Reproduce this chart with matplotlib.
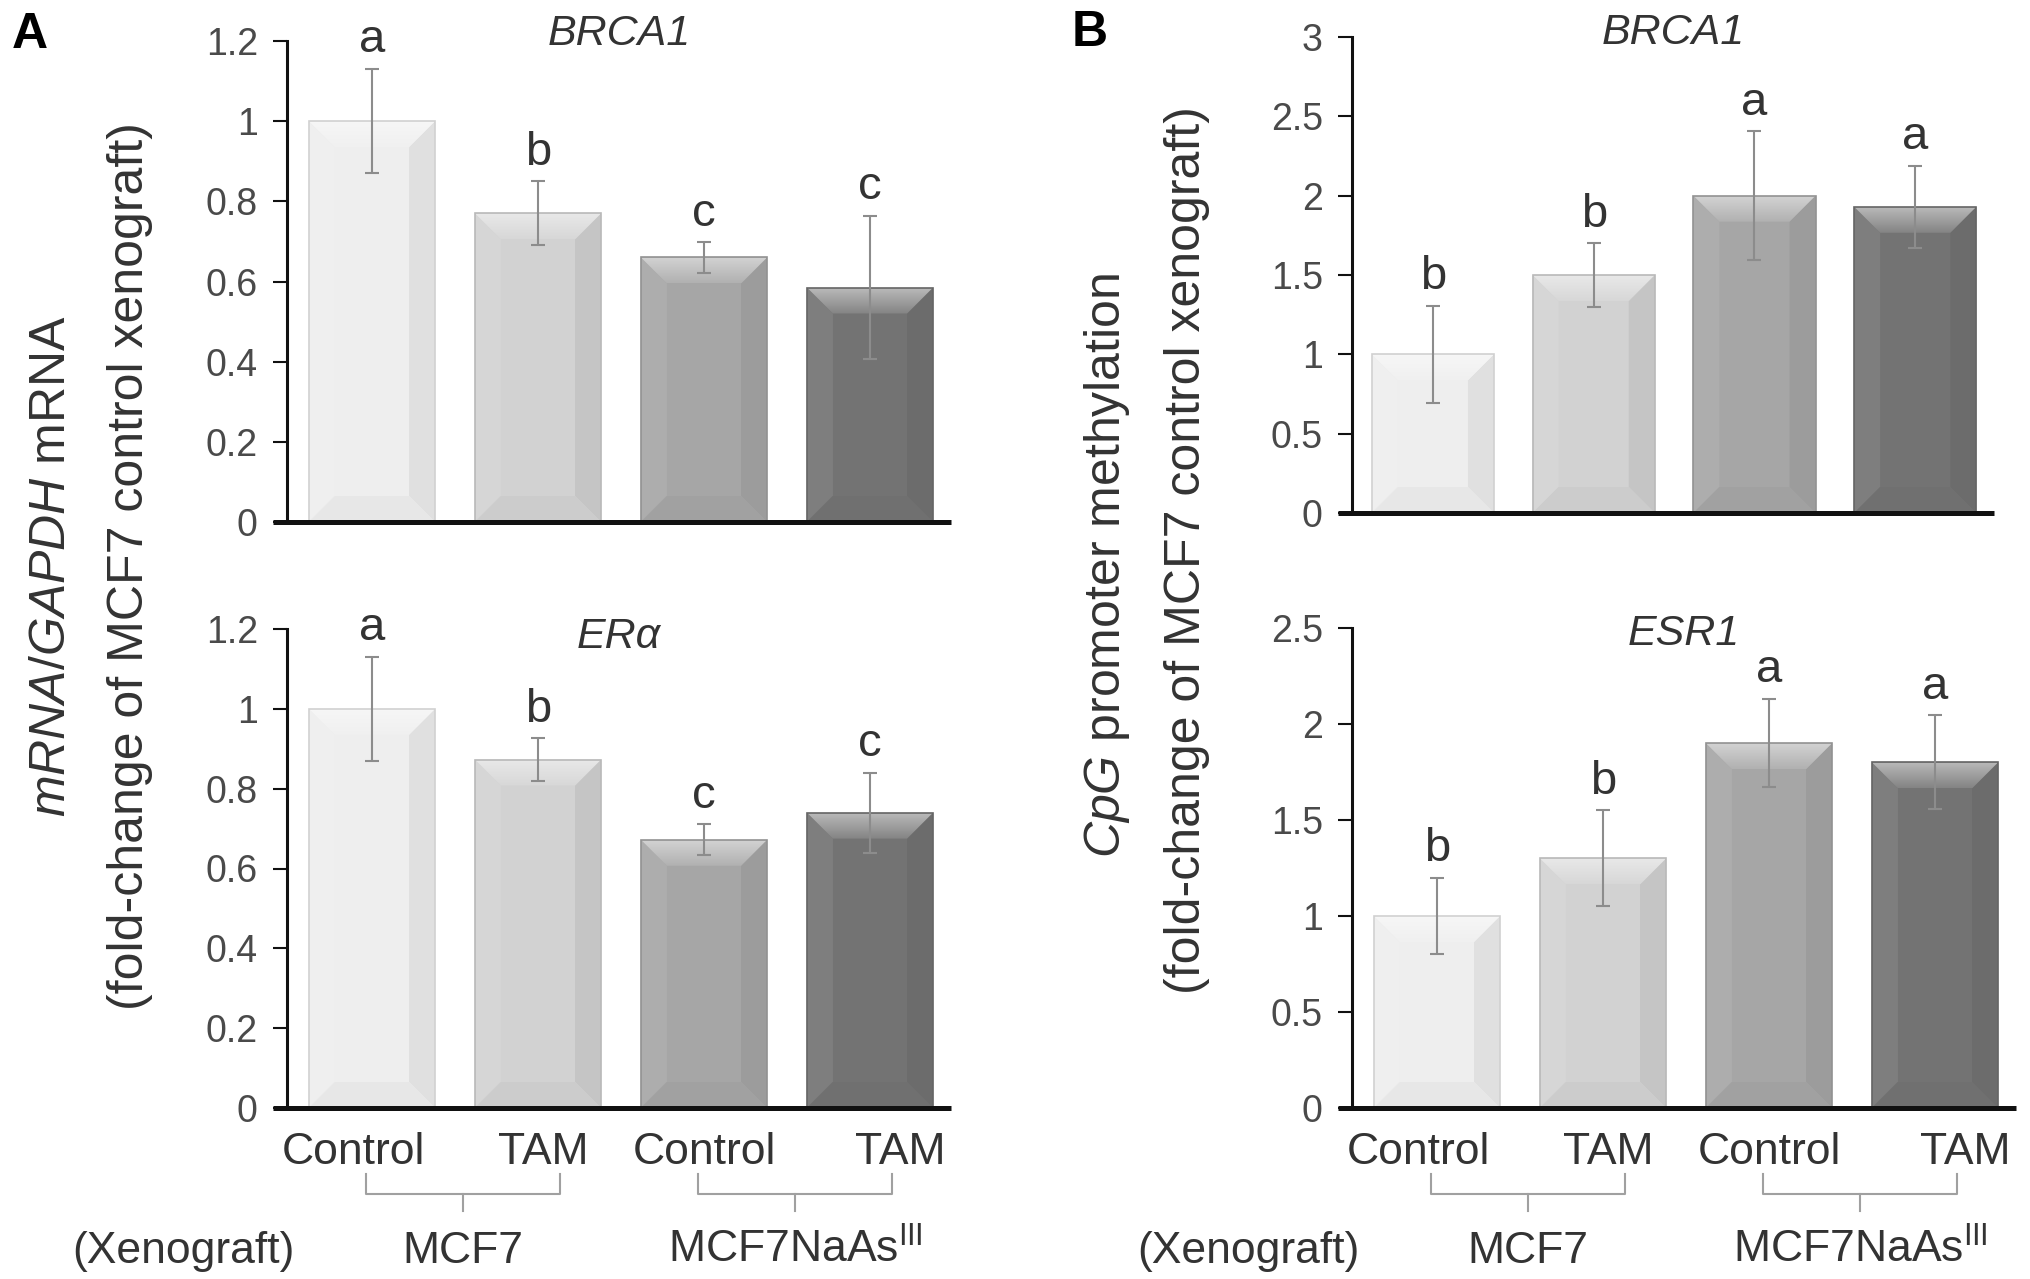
import numpy as np
import matplotlib
matplotlib.use('Agg')
import matplotlib.pyplot as plt
from matplotlib.colors import to_rgb
from matplotlib.patches import Polygon

plt.rcParams['font.family'] = ['Liberation Sans', 'DejaVu Sans']
plt.rcParams['mathtext.fontset'] = 'custom'
plt.rcParams['mathtext.rm'] = 'Liberation Sans'
plt.rcParams['mathtext.it'] = 'Liberation Sans:italic'

#groups on the x axis
groups = ['Control', 'TAM', 'Control', 'TAM']
xenografts = ['MCF7', r'MCF7NaAs$^{\rm III}$']

#A: mRNA / GAPDH mRNA
brca1_mrna = [1.0, 0.77, 0.66, 0.585]
brca1_mrna_err = [0.13, 0.08, 0.038, 0.178]
brca1_mrna_sig = ['a', 'b', 'c', 'c']
era_mrna = [1.0, 0.873, 0.672, 0.74]
era_mrna_err = [0.13, 0.053, 0.039, 0.10]
era_mrna_sig = ['a', 'b', 'c', 'c']

#B: CpG promoter methylation
brca1_meth = [1.0, 1.5, 2.0, 1.93]
brca1_meth_err = [0.305, 0.2, 0.405, 0.26]
brca1_meth_sig = ['b', 'b', 'a', 'a']
esr1_meth = [1.0, 1.30, 1.90, 1.80]
esr1_meth_err = [0.2, 0.25, 0.23, 0.245]
esr1_meth_sig = ['b', 'b', 'a', 'a']

ticks_mrna = [0, 0.2, 0.4, 0.6, 0.8, 1.0, 1.2]
ticks_brca1_meth = [0, 0.5, 1.0, 1.5, 2.0, 2.5, 3.0]
ticks_esr1_meth = [0, 0.5, 1.0, 1.5, 2.0, 2.5]

bar_colors = ['#eeeeee', '#d2d2d2', '#a6a6a6', '#737373']
label_shift = [-0.11, 0.03, 0.0, 0.18]   # x tick labels are not centred on bars
TXT = '#333333'
PT = 100 / 72.0  # px per point

W, H = 2031, 1279
fig = plt.figure(figsize=(W / 100, H / 100), dpi=100)


def mix(c, target, t):
    a = np.array(to_rgb(c))
    b = np.array(to_rgb(target))
    return tuple(a * (1 - t) + b * t)


def add_ax(l, t, r, b):
    return fig.add_axes([l / W, 1 - b / H, (r - l) / W, (b - t) / H])


def bevel_bars(ax, x, vals, width, bev=26):
    sx = ax.bbox.width / np.diff(ax.get_xlim())[0]
    sy = ax.bbox.height / np.diff(ax.get_ylim())[0]
    dx, dy = bev / sx, bev / sy
    edges = [mix(c, 'black', 0.12) for c in bar_colors]
    ax.bar(x, vals, width, color=bar_colors, linewidth=0, zorder=2)
    for xi, h, c in zip(x, vals, bar_colors):
        x0, x1 = xi - width / 2, xi + width / 2
        faces = [
            ([(x0, 0), (x0 + dx, dy), (x0 + dx, h - dy), (x0, h)], mix(c, 'white', 0.08)),
            ([(x1, 0), (x1 - dx, dy), (x1 - dx, h - dy), (x1, h)], mix(c, 'black', 0.06)),
            ([(x0, 0), (x1, 0), (x1 - dx, dy), (x0 + dx, dy)], mix(c, 'black', 0.03)),
        ]
        for pts, fc in faces:
            ax.add_patch(Polygon(pts, closed=True, fc=fc, ec='none', zorder=2.1))
        top = Polygon([(x0, h), (x1, h), (x1 - dx, h - dy), (x0 + dx, h - dy)],
                      closed=True, transform=ax.transData, fc='none', ec='none')
        g = np.linspace(0, 1, 64)[:, None, None]
        img = np.array(mix(c, 'white', 0.5)) * (1 - g) + np.array(mix(c, 'white', 0.12)) * g
        im = ax.imshow(img, extent=[x0, x1, h - dy, h], origin='upper', aspect='auto',
                       interpolation='bilinear', zorder=2.1)
        im.set_clip_path(top)
    ax.bar(x, vals, width, fill=False, edgecolor=edges, linewidth=1.2, zorder=2.2)


def panel(box, xlim, vals, errs, sig, yticks, title, title_off, bottom=False):
    ax = add_ax(*box)
    x = np.arange(len(vals))
    ylim = (0, yticks[-1])
    ax.set_xlim(xlim)
    ax.set_ylim(ylim)
    width = 0.76
    bevel_bars(ax, x, vals, width)
    ax.errorbar(x, vals, yerr=errs, fmt='none', ecolor='#8c8c8c', elinewidth=1.5,
                capsize=5, capthick=1.5, zorder=3)
    for xi, v, e, s in zip(x, vals, errs, sig):
        ax.annotate(s, (xi, v + e), xytext=(0, 12), textcoords='offset points',
                    ha='center', va='baseline', fontsize=34, color=TXT, annotation_clip=False)
    ax.set_xlim(xlim)
    ax.set_ylim(ylim)

    ax.set_yticks(yticks, ['%g' % t for t in yticks])
    ax.tick_params(axis='y', direction='out', length=10, width=1.5, pad=11,
                   labelsize=27, color='#111111', labelcolor='#4a4a4a')
    for s in ['top', 'right', 'bottom']:
        ax.spines[s].set_visible(False)
    ax.spines['left'].set_linewidth(2.2)
    ax.spines['left'].set_color('#111111')
    ax.plot([-14 / ax.bbox.width, 1], [0, 0], transform=ax.get_yaxis_transform(),
            color='#111111', lw=3.6, clip_on=False, solid_capstyle='butt', zorder=5)

    ax.annotate(title, (0.5, 1), xycoords='axes fraction', xytext=(0, -title_off),
                textcoords='offset points', ha='center', va='baseline',
                fontsize=31, style='italic', color=TXT)

    if bottom:
        ax.set_xticks(x + np.array(label_shift), groups)
        ax.tick_params(axis='x', length=0, pad=17, labelsize=32, labelcolor=TXT)
        hp = ax.bbox.height
        tr = ax.get_xaxis_transform()
        for g, name in enumerate(xenografts):
            i = 2 * g
            xl, xr, xm = i - 0.035, i + 1.13, i + 0.55
            ax.plot([xl, xl, xr, xr], [-66 / hp, -86 / hp, -86 / hp, -66 / hp], transform=tr,
                    color='#a0a0a0', lw=1.5, clip_on=False)
            ax.plot([xm, xm], [-86 / hp, -103 / hp], transform=tr,
                    color='#a0a0a0', lw=1.5, clip_on=False)
            ax.annotate(name, (xm, 0), xycoords=('data', 'axes fraction'),
                        xytext=(0, -155 / PT), textcoords='offset points',
                        ha='center', va='baseline', fontsize=32, color=TXT)
        ax.annotate('(Xenograft)', (0, 0), xycoords='axes fraction',
                    xytext=(-104 / PT, -155 / PT), textcoords='offset points',
                    ha='center', va='baseline', fontsize=32, color=TXT)
    else:
        ax.set_xticks([])
    return ax


xlim_a = (-0.512, 3.488)
xlim_b = (-0.503, 3.49)

panel((287, 41, 951, 522), xlim_a, brca1_mrna, brca1_mrna_err, brca1_mrna_sig,
      ticks_mrna, 'BRCA1', 3)
panel((287, 629, 951, 1108), xlim_a, era_mrna, era_mrna_err, era_mrna_sig,
      ticks_mrna, 'ER\u03b1', 14, bottom=True)
panel((1352, 37, 1994, 513), xlim_b, brca1_meth, brca1_meth_err, brca1_meth_sig,
      ticks_brca1_meth, 'BRCA1', 5)
panel((1352, 628, 2016, 1108), xlim_a, esr1_meth, esr1_meth_err, esr1_meth_sig,
      ticks_esr1_meth, 'ESR1', 12, bottom=True)

#y axis labels
fig.text(52 / W, 1 - 566 / H, r'$\it{mRNA/GAPDH}$ mRNA', rotation=90,
         ha='center', va='center', fontsize=36, color=TXT)
fig.text(130 / W, 1 - 566 / H, '(fold-change of MCF7 control xenograft)', rotation=90,
         ha='center', va='center', fontsize=36, color=TXT)
fig.text(1107 / W, 1 - 565 / H, r'$\it{CpG}$ promoter methylation', rotation=90,
         ha='center', va='center', fontsize=36, color=TXT)
fig.text(1187 / W, 1 - 550 / H, '(fold-change of MCF7 control xenograft)', rotation=90,
         ha='center', va='center', fontsize=36, color=TXT)

#panel letters
fig.text(12 / W, 1 - 12 / H, 'A', ha='left', va='top', fontsize=36, weight='bold')
fig.text(1072 / W, 1 - 10 / H, 'B', ha='left', va='top', fontsize=36, weight='bold')

fig.savefig('out.png', dpi=100, facecolor='white')
